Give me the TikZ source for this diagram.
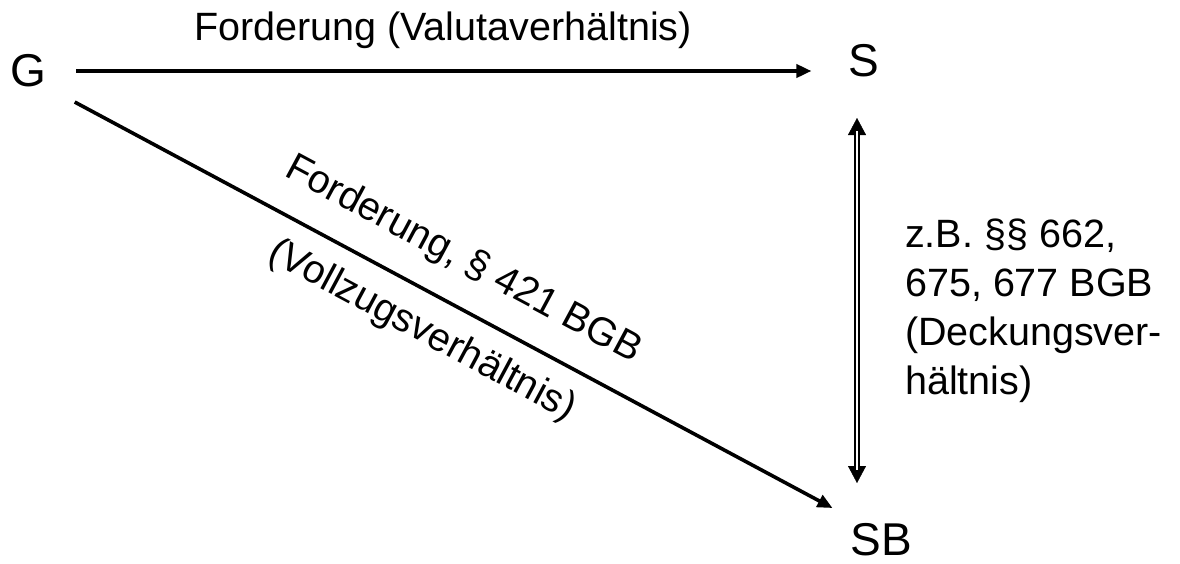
\documentclass[tikz,border=0pt]{standalone}
\usepackage{fontspec}
\setmainfont{Liberation Sans}
\usetikzlibrary{arrows.meta,calc}
\begin{document}
\begin{tikzpicture}[x=1pt,y=-1pt,
  party/.style={inner sep=0pt, font=\fontsize{46}{55}\selectfont},
  lbl/.style={inner sep=0pt, font=\fontsize{39.5}{49}\selectfont},
  arr/.style={line width=3.6pt, -{Triangle[length=15pt,width=13pt]}},
  dtip/.style={line width=0.4pt, {Triangle[length=17pt,width=18pt]}-{Triangle[length=17pt,width=18pt]}},
  dline/.style={double, line width=2pt, double distance=2.5pt}]
\useasboundingbox (0,0) rectangle (1180,563);
\node[party] (G) at (28,71) {G};
\node[party] (S) at (864,61) {S};
\node[party] (SB) at (881,540) {SB};
% top arrow
\draw[arr, shorten <=30pt, shorten >=37pt] (G.east) -- (G.east -| S.west);
\node[lbl, anchor=base] (t1) at (443,40) {Forderung (Valutaverhältnis)};
% diagonal arrow
\coordinate (gs) at ([yshift=-6pt]G.center);
\coordinate (se) at ([yshift=6pt]SB.center);
\draw[arr, shorten <=53pt, shorten >=55pt] (gs) -- (se);
\coordinate (m1) at ($(gs)!0.4856!(se)$);
\coordinate (m2) at ($(gs)!0.4828!(se)$);
\node[lbl, rotate=-28.2] (d1) at ($(m1)!44pt!90:(se)$) {Forderung, § 421 BGB};
\node[lbl, rotate=-28.2] (d2) at ($(m2)!38pt!-90:(se)$) {(Vollzugsverhältnis)};
% double arrow
\coordinate (a) at ([xshift=-7pt]S.center);
\coordinate (b) at (a |- SB.center);
\draw[dtip, shorten <=57pt, shorten >=57pt] (a) -- (b);
\draw[dline, shorten <=70pt, shorten >=70pt] (a) -- (b);
\node[lbl, anchor=north west, align=left] (r) at (905,219) {z.B. §§ 662,\\675, 677 BGB\\(Deckungsver-\\hältnis)};
\end{tikzpicture}
\end{document}
